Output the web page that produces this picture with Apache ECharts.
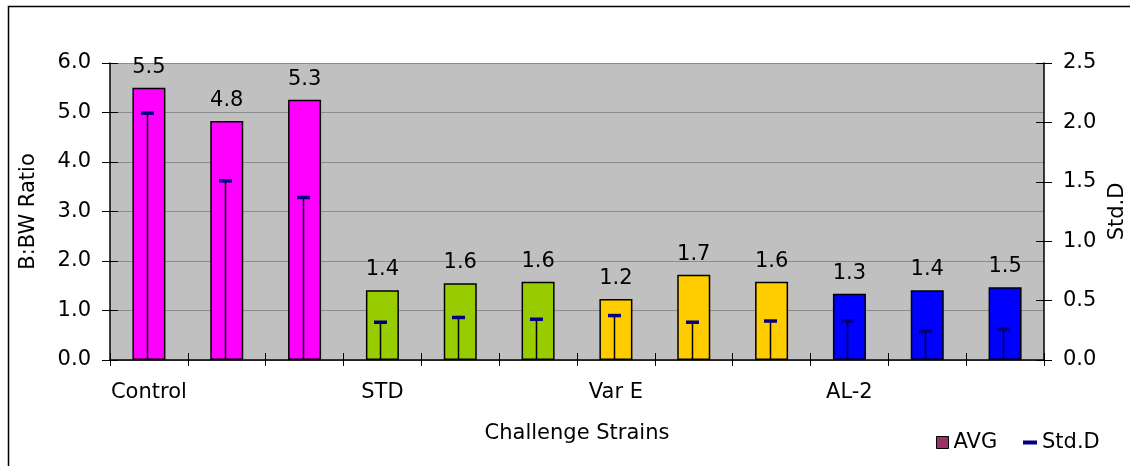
<!DOCTYPE html>
<html>
<head>
<meta charset="utf-8">
<script src="https://cdn.jsdelivr.net/npm/echarts@6/dist/echarts.min.js"></script>
<style>
html,body{margin:0;padding:0;background:#fff;}
#chart{width:1130px;height:466px;}
</style>
</head>
<body>
<div id="chart"></div>
<script>
const categories = ['Control', '', '', 'STD', '', '', 'Var E', '', '', 'AL-2', '', ''];
const avgValues = [5.5, 4.83, 5.26, 1.41, 1.55, 1.58, 1.23, 1.72, 1.58, 1.34, 1.41, 1.47];
const stdValues = [2.08, 1.51, 1.37, 0.32, 0.36, 0.345, 0.376, 0.32, 0.33, 0.33, 0.244, 0.26];
const barColors = ['#ff00ff', '#ff00ff', '#ff00ff', '#99cc00', '#99cc00', '#99cc00',
                   '#ffcc00', '#ffcc00', '#ffcc00', '#0000ff', '#0000ff', '#0000ff'];
const leftTicks = [0, 6, 1];
const rightTicks = [0, 2.5, 0.5];

const FONT = 'DejaVu Sans';
const FS = 21;

const chart = echarts.init(document.getElementById('chart'), null, {renderer: 'canvas'});

const option = {
  backgroundColor: '#ffffff',
  animation: false,
  textStyle: {fontFamily: FONT, color: '#000'},
  graphic: [{
    type: 'rect',
    shape: {x: 8.5, y: 6.5, width: 1130, height: 470},
    style: {fill: 'none', stroke: '#000', lineWidth: 1.5},
    silent: true, z: 100
  }],
  grid: {
    left: 110, right: 86, top: 63, bottom: 106,
    containLabel: false,
    outerBoundsMode: 'none',
    show: true, backgroundColor: '#c0c0c0', borderWidth: 0
  },
  legend: [{
    data: [{name: 'AVG', icon: 'rect'}],
    left: 931, top: 427,
    itemWidth: 12, itemHeight: 12, itemGap: 6,
    itemStyle: {borderColor: '#000', borderWidth: 1},
    textStyle: {fontFamily: FONT, fontSize: FS, color: '#000'},
    selectedMode: false
  }, {
    data: [{name: 'Std.D', icon: 'rect'}],
    left: 1018, top: 427,
    itemWidth: 14, itemHeight: 4,
    textStyle: {fontFamily: FONT, fontSize: FS, color: '#000'},
    selectedMode: false
  }],
  xAxis: [{
    type: 'category',
    data: categories,
    boundaryGap: true,
    name: 'Challenge Strains',
    nameLocation: 'middle',
    nameGap: 63,
    nameTextStyle: {fontFamily: FONT, fontSize: FS, color: '#000'},
    axisLine: {show: true, lineStyle: {color: '#000', width: 1.5}},
    axisTick: {show: true, length: 6, interval: 0, lineStyle: {color: '#000', width: 1}},
    axisLabel: {interval: 0, margin: 22, fontFamily: FONT, fontSize: FS, color: '#000'},
    splitLine: {show: false}
  }, {
    type: 'category',
    data: categories,
    position: 'bottom',
    boundaryGap: true,
    axisLine: {show: false},
    axisTick: {show: true, inside: true, length: 7, interval: 0, lineStyle: {color: '#000', width: 1}},
    axisLabel: {show: false},
    splitLine: {show: false}
  }],
  yAxis: [{
    type: 'value',
    min: leftTicks[0], max: leftTicks[1], interval: leftTicks[2],
    position: 'left',
    name: 'B:BW Ratio',
    nameLocation: 'middle',
    nameRotate: 90,
    nameGap: 71,
    nameTextStyle: {fontFamily: FONT, fontSize: FS, color: '#000'},
    axisLine: {show: true, lineStyle: {color: '#000', width: 1.5}},
    axisTick: {show: true, length: 8, lineStyle: {color: '#000', width: 1}},
    axisLabel: {margin: 19, fontFamily: FONT, fontSize: FS, color: '#000', formatter: v => v.toFixed(1)},
    splitLine: {show: true, lineStyle: {color: '#8c8c8c', width: 1}}
  }, {
    type: 'value',
    min: rightTicks[0], max: rightTicks[1], interval: rightTicks[2],
    position: 'right',
    name: 'Std.D',
    nameLocation: 'middle',
    nameRotate: 90,
    nameGap: 56,
    nameTextStyle: {fontFamily: FONT, fontSize: FS, color: '#000'},
    axisLine: {show: true, lineStyle: {color: '#000', width: 1.5}},
    axisTick: {show: true, length: 8, lineStyle: {color: '#000', width: 1}},
    axisLabel: {margin: 19, fontFamily: FONT, fontSize: FS, color: '#000', formatter: v => v.toFixed(1)},
    splitLine: {show: false}
  }, {
    type: 'value',
    min: leftTicks[0], max: leftTicks[1], interval: leftTicks[2],
    position: 'left',
    axisLine: {show: false},
    axisTick: {show: true, inside: true, length: 8, lineStyle: {color: '#000', width: 1}},
    axisLabel: {show: false},
    splitLine: {show: false}
  }, {
    type: 'value',
    min: rightTicks[0], max: rightTicks[1], interval: rightTicks[2],
    position: 'right',
    axisLine: {show: false},
    axisTick: {show: true, inside: true, length: 8, lineStyle: {color: '#000', width: 1}},
    axisLabel: {show: false},
    splitLine: {show: false}
  }],
  series: [{
    name: 'AVG',
    type: 'bar',
    xAxisIndex: 0,
    yAxisIndex: 0,
    barWidth: 33,
    itemStyle: {color: '#993366', borderColor: '#000', borderWidth: 1.5},
    data: avgValues.map((v, i) => ({
      value: v,
      itemStyle: {color: barColors[i], borderColor: '#000', borderWidth: 1.5}
    })),
    label: {
      show: true, position: 'top', distance: 10,
      fontFamily: FONT, fontSize: FS, color: '#000',
      formatter: p => p.value.toFixed(1)
    },
    z: 2
  }, {
    name: 'Std.D',
    type: 'custom',
    xAxisIndex: 0,
    yAxisIndex: 1,
    itemStyle: {color: '#000080'},
    encode: {x: 0, y: 1},
    data: stdValues.map((v, i) => [i, v]),
    renderItem: function (params, api) {
      const top = api.coord([api.value(0), api.value(1)]);
      const base = api.coord([api.value(0), 0]);
      const x = Math.round(top[0]) - 1.5;
      return {
        type: 'group',
        children: [{
          type: 'line',
          shape: {x1: x, y1: base[1], x2: x, y2: top[1]},
          style: {stroke: '#000', lineWidth: 1.5}
        }, {
          type: 'rect',
          shape: {x: x - 6.5, y: top[1] - 1.5, width: 13, height: 3.5},
          style: {fill: '#000080'}
        }]
      };
    },
    z: 3
  }]
};

chart.setOption(option);
</script>
</body>
</html>
